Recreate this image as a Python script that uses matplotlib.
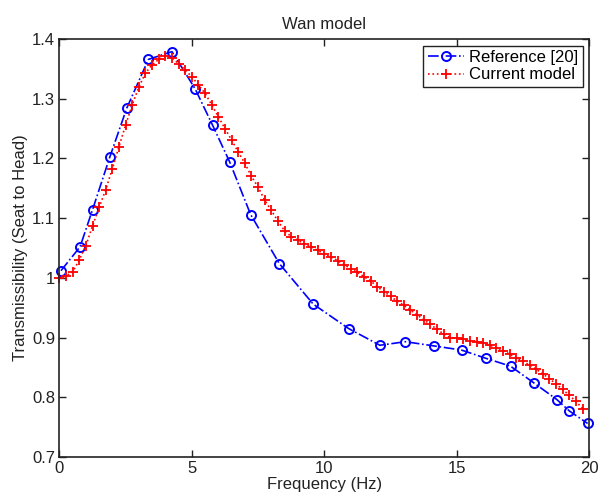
import numpy as np
import matplotlib.pyplot as plt

plt.rcParams['font.family'] = ['Liberation Sans', 'DejaVu Sans']

# Reference [20] data
f_ref = [0.06, 0.78, 1.25, 1.90, 2.54, 3.36, 4.25, 5.12, 5.78, 6.43, 7.22, 8.30,
         9.58, 10.92, 12.10, 13.06, 14.13, 15.18, 16.11, 17.03, 17.91, 18.78, 19.25, 19.94]
t_ref = [1.012, 1.052, 1.114, 1.202, 1.284, 1.366, 1.379, 1.317, 1.256, 1.194, 1.106, 1.024,
         0.956, 0.915, 0.887, 0.893, 0.886, 0.879, 0.865, 0.852, 0.824, 0.796, 0.777, 0.756]

# Current model data, every 0.25 Hz
f_mod = np.arange(0, 20, 0.25)
t_mod = [1.000, 1.003, 1.010, 1.030, 1.054, 1.087, 1.118, 1.148, 1.183, 1.220,
         1.256, 1.290, 1.320, 1.343, 1.357, 1.366, 1.371, 1.368, 1.359, 1.348,
         1.337, 1.323, 1.309, 1.290, 1.270, 1.250, 1.231, 1.211, 1.192, 1.170,
         1.152, 1.130, 1.113, 1.095, 1.079, 1.069, 1.063, 1.057, 1.052, 1.046,
         1.040, 1.035, 1.029, 1.022, 1.015, 1.009, 1.002, 0.995, 0.985, 0.977,
         0.969, 0.961, 0.954, 0.946, 0.938, 0.930, 0.922, 0.914, 0.906, 0.900,
         0.899, 0.897, 0.895, 0.893, 0.891, 0.887, 0.883, 0.878, 0.872, 0.866,
         0.860, 0.854, 0.847, 0.839, 0.831, 0.822, 0.813, 0.803, 0.793, 0.781]

xticks = [0, 5, 10, 15, 20]
yticks = [0.7, 0.8, 0.9, 1.0, 1.1, 1.2, 1.3, 1.4]
ylabels = ['0.7', '0.8', '0.9', '1', '1.1', '1.2', '1.3', '1.4']

fig = plt.figure(figsize=(6.0, 4.95), dpi=100)
ax = fig.add_axes([0.099, 0.077, 0.883, 0.844])

ax.plot(f_ref, t_ref, '-.o', color='#0000ff', lw=1.2, markersize=6.5,
        markerfacecolor='none', markeredgewidth=1.4, label='Reference [20]', clip_on=False)
ax.plot(f_mod, t_mod, ':+', color='#ff0000', lw=1.2, markersize=6.5,
        markeredgewidth=1.3, label='Current model', clip_on=False)

ax.set_xlim(0, 20)
ax.set_ylim(0.7, 1.4)
ax.set_xticks(xticks)
ax.set_yticks(yticks)
ax.set_yticklabels(ylabels)
ax.tick_params(direction='in', length=5, width=1, top=True, right=True,
               labelsize=12, colors='#222222', pad=3)
for sp in ax.spines.values():
    sp.set_linewidth(1.2)
    sp.set_color('#222222')

ax.set_title('Wan model', fontsize=12, pad=7, color='#222222')
ax.set_xlabel('Frequency (Hz)', fontsize=12, labelpad=1, color='#222222')
ax.set_ylabel('Transmissibility (Seat to Head)', fontsize=12, labelpad=3, color='#222222')

leg = ax.legend(loc='upper right', fontsize=12, fancybox=False, framealpha=1,
                edgecolor='#222222', borderaxespad=0.4, handlelength=2.2,
                handletextpad=0.3, borderpad=0.25, labelspacing=0.15)
leg.get_frame().set_linewidth(1.0)

plt.savefig('out.png', dpi=100)
